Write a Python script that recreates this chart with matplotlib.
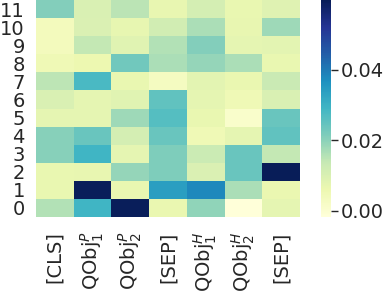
import numpy as np
import matplotlib
matplotlib.use("Agg")
import matplotlib.pyplot as plt

# tokens on the x axis, layers 0..11 on the y axis
tokens = ['[CLS]', r'QObj$_1^P$', r'QObj$_2^P$', '[SEP]', r'QObj$_1^H$', r'QObj$_2^H$', '[SEP]']
layers = [str(i) for i in range(12)]

# attention values, one list per layer (layer 0 first)
layer0 = [0.0160, 0.0290, 0.0595, 0.0064, 0.0195, -0.0018, 0.0076]
layer1 = [0.0067, 0.0595, 0.0067, 0.0340, 0.0380, 0.0166, 0.0064]
layer2 = [0.0067, 0.0070, 0.0190, 0.0215, 0.0098, 0.0240, 0.0598]
layer3 = [0.0205, 0.0290, 0.0076, 0.0215, 0.0128, 0.0240, 0.0140]
layer4 = [0.0205, 0.0240, 0.0110, 0.0240, 0.0050, 0.0076, 0.0250]
layer5 = [0.0076, 0.0076, 0.0180, 0.0265, 0.0067, 0.0010, 0.0240]
layer6 = [0.0100, 0.0076, 0.0086, 0.0250, 0.0076, 0.0050, 0.0100]
layer7 = [0.0147, 0.0280, 0.0067, 0.0030, 0.0080, 0.0064, 0.0130]
layer8 = [0.0050, 0.0060, 0.0230, 0.0166, 0.0190, 0.0166, 0.0067]
layer9 = [0.0036, 0.0140, 0.0086, 0.0160, 0.0210, 0.0076, 0.0080]
layer10 = [0.0036, 0.0098, 0.0073, 0.0116, 0.0166, 0.0070, 0.0180]
layer11 = [0.0210, 0.0100, 0.0150, 0.0070, 0.0110, 0.0067, 0.0090]

data = np.array([layer0, layer1, layer2, layer3, layer4, layer5,
                 layer6, layer7, layer8, layer9, layer10, layer11])

W, H = 387, 291
fig = plt.figure(figsize=(W / 100, H / 100), dpi=100)
plt.rcParams['mathtext.fontset'] = 'dejavusans'

ax = fig.add_axes([36 / W, (H - 217) / H, 264 / W, 217 / H])
cax = fig.add_axes([321 / W, (H - 217) / H, 10 / W, 217 / H])

mesh = ax.pcolormesh(data, cmap='YlGnBu', vmin=data.min(), vmax=data.max())
ax.set_xlim(0, data.shape[1])
ax.set_ylim(0, data.shape[0])
for s in ax.spines.values():
    s.set_visible(False)

txt = '#262626'
fs = 14
ax.set_xticks(np.arange(data.shape[1]) + 0.5)
ax.set_xticklabels(tokens, rotation=90, fontsize=fs, color=txt)
ax.set_yticks(np.arange(data.shape[0]) + 0.5)
ax.set_yticklabels(layers, rotation=0, fontsize=fs, color=txt)
ax.tick_params(axis='both', length=0)
ax.tick_params(axis='x', pad=10.5)
ax.tick_params(axis='y', pad=8)

cbar = fig.colorbar(mesh, cax=cax)
cbar.outline.set_visible(False)
cbar.set_ticks([0.0, 0.02, 0.04])
cbar.set_ticklabels(['0.00', '0.02', '0.04'])
cax.tick_params(labelsize=fs, labelcolor=txt, color=txt, length=5, width=1, pad=2)

fig.savefig('out.png', dpi=100)
